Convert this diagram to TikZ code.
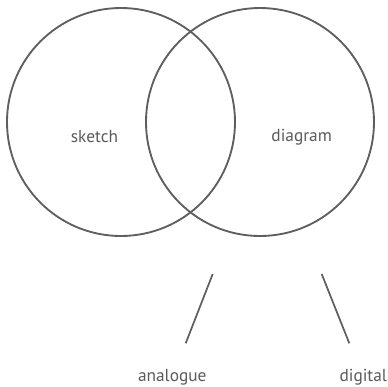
\documentclass[tikz,border=0pt]{standalone}
\usepackage{fontspec}
\setmainfont{PT Sans}
\usetikzlibrary{positioning}
\definecolor{ink}{RGB}{95,95,95}
\definecolor{txt}{RGB}{90,90,90}

\begin{document}
\begin{tikzpicture}[x=0.75pt,y=-0.75pt,
    ring/.style={draw=ink,line width=1.4pt,circle,minimum size=171pt,inner sep=0pt},
    lab/.style={text=txt,font=\fontsize{13}{15}\selectfont,inner sep=0pt},
    link/.style={draw=ink,line width=1.3pt}]
    \useasboundingbox (0,0) rectangle (387,387);
    % two overlapping sets
    \node[ring] (sk) at (121,122) {};
    \node[ring] (dg) at (260,122) {};
    \node[lab] (sklab) at (94.5,137) {sketch};
    \node[lab] (dglab) at (301.7,137) {diagram};
    % branches below
    \coordinate (a1) at (212.7,274);
    \coordinate (a2) at (185.7,343.3);
    \coordinate (d1) at (321.7,274);
    \coordinate (d2) at (349.3,343.3);
    \draw[link] (a1) -- (a2);
    \draw[link] (d1) -- (d2);
    \node[lab] (an) at (172.3,377) {analogue};
    \node[lab] (di) at (363.3,377) {digital};
\end{tikzpicture}
\end{document}
